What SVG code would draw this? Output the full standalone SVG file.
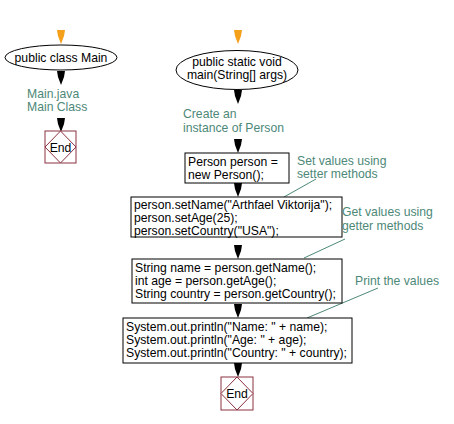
<svg xmlns="http://www.w3.org/2000/svg" width="454" height="424" viewBox="0 0 454 424">
<defs>
<style>
text{font-family:"Liberation Sans",Arial,sans-serif;font-size:12.2px;fill:#000}
.lbl{fill:#4d8878}
.box{fill:#fff;stroke:#000;stroke-width:1}
.ell{fill:#fff;stroke:#000;stroke-width:1}
.end{fill:#fff;stroke:#8b3040;stroke-width:1}
.arr{fill:#000}
.arro{fill:#f5a01a}
.note{stroke:#4d8878;stroke-width:1;fill:none}
</style>
<path id="ah" d="M-4,0 L4,0 L3,6 L0,14 L-3,6 Z"/>
</defs>
<rect width="454" height="424" fill="#fff"/>
<g id="connectors">
<use href="#ah" class="arro" x="61" y="30"/>
<use href="#ah" class="arr" x="61" y="71"/>
<use href="#ah" class="arr" x="61" y="118"/>
<use href="#ah" class="arro" x="238" y="30"/>
<use href="#ah" class="arr" x="238" y="90"/>
<use href="#ah" class="arr" x="238" y="139"/>
<use href="#ah" class="arr" x="238" y="183"/>
<use href="#ah" class="arr" x="238" y="245"/>
<use href="#ah" class="arr" x="238" y="304"/>
<use href="#ah" class="arr" x="238" y="363"/>
<line class="note" x1="316" y1="179" x2="284" y2="197"/>
<line class="note" x1="345" y1="239" x2="304" y2="258"/>
<line class="note" x1="378" y1="288" x2="307" y2="318"/>
</g>
<g id="main-class">
<ellipse class="ell" cx="61" cy="57.500" rx="56" ry="12.500"/>
<text x="61" y="62" text-anchor="middle">public class Main</text>
</g>
<g id="main-class-label">
<text class="lbl" x="27" y="98">Main.java</text>
<text class="lbl" x="27" y="111">Main Class</text>
</g>
<g id="end1">
<rect class="end" x="45" y="131" width="31" height="32"/>
<path class="end" d="M60.500,131 L76,147 L60.500,163 L45,147 Z"/>
<text x="60.500" y="152" text-anchor="middle">End</text>
</g>
<g id="main-method">
<ellipse class="ell" cx="237" cy="70" rx="61" ry="19.500"/>
<text x="237" y="66" text-anchor="middle">public static void</text>
<text x="237" y="79" text-anchor="middle">main(String[] args)</text>
</g>
<g id="label-create">
<text class="lbl" x="183" y="118">Create an</text>
<text class="lbl" x="183" y="132">instance of Person</text>
</g>
<g id="create">
<rect class="box" x="185" y="153" width="104" height="30"/>
<text x="188" y="166">Person person =</text>
<text x="188" y="179">new Person();</text>
</g>
<g id="label-set">
<text class="lbl" x="297" y="165">Set values using</text>
<text class="lbl" x="297" y="178">setter methods</text>
</g>
<g id="setters">
<rect class="box" x="131" y="197" width="211" height="40"/>
<text x="134" y="209">person.setName("Arthfael Viktorija");</text>
<text x="134" y="222">person.setAge(25);</text>
<text x="134" y="235">person.setCountry("USA");</text>
</g>
<g id="label-get">
<text class="lbl" x="342" y="216">Get values using</text>
<text class="lbl" x="342" y="230">getter methods</text>
</g>
<g id="getters">
<rect class="box" x="132" y="259" width="210" height="44"/>
<text x="135" y="272">String name = person.getName();</text>
<text x="135" y="285">int age = person.getAge();</text>
<text x="135" y="298">String country = person.getCountry();</text>
</g>
<g id="label-print">
<text class="lbl" x="355" y="285">Print the values</text>
</g>
<g id="print">
<rect class="box" x="123" y="318" width="229" height="45"/>
<text x="126" y="331">System.out.println("Name: " + name);</text>
<text x="126" y="344">System.out.println("Age: " + age);</text>
<text x="126" y="357">System.out.println("Country: " + country);</text>
</g>
<g id="end2">
<rect class="end" x="221" y="377" width="32" height="33"/>
<path class="end" d="M237,377 L253,393.500 L237,410 L221,393.500 Z"/>
<text x="237" y="398" text-anchor="middle">End</text>
</g>
</svg>
